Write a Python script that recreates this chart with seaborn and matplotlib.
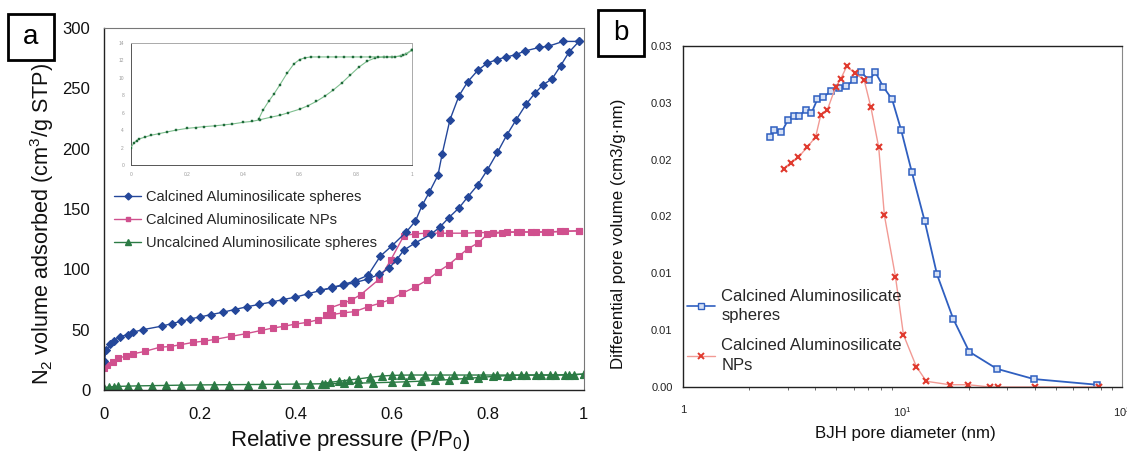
import numpy as np
import pandas as pd
import matplotlib
matplotlib.use("Agg")
import matplotlib.pyplot as plt
import seaborn as sns
from matplotlib.lines import Line2D
from matplotlib.patches import Rectangle

# ---------------- Panel a: N2 isotherms ----------------
sph_ads_p = [0.0, 0.005, 0.013, 0.021, 0.033, 0.049, 0.061, 0.081, 0.121, 0.141, 0.161, 0.18, 0.2,
             0.223, 0.248, 0.272, 0.298, 0.324, 0.35, 0.374, 0.399, 0.425, 0.451, 0.475, 0.499,
             0.523, 0.55, 0.574, 0.594, 0.61, 0.625, 0.649, 0.681, 0.70, 0.719, 0.740, 0.758,
             0.779, 0.799, 0.820, 0.839, 0.859, 0.880, 0.898, 0.915, 0.934, 0.952, 0.969, 0.99]
sph_ads_v = [24, 33, 38, 41, 44, 46, 48, 50, 53, 55, 57, 59, 60.5, 62.5, 64.5, 66.7, 69, 71, 73,
             75, 77, 79.7, 82.5, 84.7, 87, 89, 92, 96, 101, 108, 116, 122, 129, 135, 143, 151,
             160, 170, 182.5, 197, 211, 224, 237, 246, 253, 258, 269, 280, 289]
sph_des_p = [0.99, 0.957, 0.926, 0.907, 0.877, 0.858, 0.838, 0.819, 0.799, 0.779, 0.758, 0.740,
             0.721, 0.705, 0.696, 0.678, 0.663, 0.649, 0.630, 0.600, 0.576, 0.55, 0.523, 0.5,
             0.475, 0.451]
sph_des_v = [289, 289, 285, 284, 281, 278, 276, 274, 271, 265, 255.5, 244, 224, 196, 178, 164,
             153, 140, 131, 119.5, 111, 95, 90.5, 87.5, 85, 82.5]

np_ads_p = [0, 0.006, 0.018, 0.029, 0.045, 0.061, 0.085, 0.117, 0.137, 0.159, 0.185, 0.208, 0.232,
            0.264, 0.296, 0.328, 0.352, 0.375, 0.399, 0.423, 0.447, 0.475, 0.499, 0.523, 0.55,
            0.576, 0.597, 0.621, 0.649, 0.673, 0.696, 0.719, 0.740, 0.758, 0.780, 0.799, 0.83,
            0.86, 0.89, 0.92, 0.95, 0.99]
np_ads_v = [18, 21, 23.6, 26.4, 28, 30, 32, 35.5, 36, 37.5, 39.4, 40.5, 42, 44.4, 46.7, 49.4,
            51.4, 52.8, 54.7, 56, 58.3, 62.5, 64, 65, 69, 72, 75, 80, 85.5, 91, 98, 104, 111,
            117, 122, 129, 130.5, 131, 131, 131, 131.5, 132]
np_des_p = [0.99, 0.96, 0.93, 0.90, 0.87, 0.84, 0.81, 0.78, 0.75, 0.72, 0.70, 0.672, 0.649,
            0.625, 0.598, 0.574, 0.535, 0.515, 0.499, 0.471, 0.463]
np_des_v = [132, 131.5, 131, 131, 131, 131, 130.5, 130.5, 130, 130, 130, 130, 129.5, 128, 108,
            92, 79, 74.4, 72, 68, 62.5]

unc_ads_p = [0, 0.01, 0.02, 0.03, 0.05, 0.07, 0.1, 0.13, 0.16, 0.2, 0.23, 0.26, 0.3, 0.33, 0.36,
             0.4, 0.43, 0.46, 0.5, 0.53, 0.56, 0.6, 0.63, 0.66, 0.69, 0.72, 0.75, 0.78, 0.81,
             0.84, 0.87, 0.9, 0.93, 0.96, 0.98, 1.0]
unc_ads_v = [2.0, 2.5, 2.8, 3.0, 3.2, 3.4, 3.6, 3.8, 4.0, 4.2, 4.3, 4.4, 4.5, 4.6, 4.7, 4.9, 5.0,
             5.2, 5.5, 5.7, 6.0, 6.4, 6.8, 7.3, 7.9, 8.6, 9.4, 10.3, 11.2, 11.9, 12.3, 12.4,
             12.4, 12.5, 12.7, 13.2]
unc_des_p = [1.0, 0.97, 0.94, 0.91, 0.88, 0.85, 0.82, 0.79, 0.76, 0.73, 0.70, 0.67, 0.64, 0.62,
             0.60, 0.58, 0.555, 0.53, 0.51, 0.49, 0.47, 0.455]
unc_des_v = [13.2, 12.6, 12.4, 12.4, 12.4, 12.4, 12.4, 12.4, 12.4, 12.4, 12.4, 12.4, 12.4, 12.3,
             12.1, 11.6, 10.5, 9.2, 8.2, 7.3, 6.3, 5.3]

a_labels = ["Calcined Aluminosilicate spheres", "Calcined Aluminosilicate NPs",
            "Uncalcined Aluminosilicate spheres"]
a_xticks = [0, 0.2, 0.4, 0.6, 0.8, 1.0]
a_xticklabels = ["0", "0.2", "0.4", "0.6", "0.8", "1"]
a_yticks = [0, 50, 100, 150, 200, 250, 300]
inset_xticks = [0, 0.2, 0.4, 0.6, 0.8, 1.0]
inset_yticks = [0, 2, 4, 6, 8, 10, 12, 14]

# ---------------- Panel b: BJH pore size distribution ----------------
bjh_sph_d = [2.50, 2.61, 2.81, 3.01, 3.20, 3.37, 3.62, 3.85, 4.09, 4.34, 4.71, 5.14, 5.55, 6.02,
             6.46, 7.06, 7.52, 8.18, 8.97, 9.86, 11.03, 12.62, 14.36, 17.02, 20.14, 26.9, 39.6, 76.8]
bjh_sph_v = [0.0220, 0.0226, 0.0224, 0.0235, 0.0238, 0.0238, 0.0244, 0.0241, 0.0253, 0.0255,
             0.0260, 0.0263, 0.0265, 0.0270, 0.0277, 0.0270, 0.0277, 0.0264, 0.0253, 0.0226,
             0.0189, 0.0146, 0.0099, 0.0060, 0.0031, 0.0016, 0.0007, 0.0002]
bjh_np_d = [2.88, 3.09, 3.35, 3.68, 4.02, 4.24, 4.55, 4.96, 5.23, 5.57, 6.09, 6.69, 7.18, 7.79,
            8.27, 9.29, 10.1, 11.56, 12.84, 16.4, 19.9, 25.0, 27.3, 40.3, 78.6]
bjh_np_v = [0.0192, 0.0197, 0.0202, 0.0211, 0.0220, 0.0239, 0.0244, 0.0264, 0.0271, 0.0282,
            0.0276, 0.0270, 0.0246, 0.0211, 0.0151, 0.0097, 0.0046, 0.0018, 0.0005, 0.0002,
            0.0002, 0.0, 0.0, 0.0, 0.0]
b_labels = ["Calcined Aluminosilicate\nspheres", "Calcined Aluminosilicate\nNPs"]
b_yticks = [0, 0.005, 0.01, 0.015, 0.02, 0.025, 0.03]
b_yticklabels = ["0.00", "0.01", "0.01", "0.02", "0.02", "0.03", "0.03"]
b_xticks = [1, 10, 100]
b_xticklabels = ["1", "10$^{1}$", "10$^{2}$"]

# colours
C_SPH = "#24479a"
C_NP = "#d0508e"
C_UNC = "#2c7b45"
C_BSPH = "#2f5fc0"
C_BNP = "#e03a2e"
C_BNP_LINE = "#f29a94"

sns.set_theme(style="white")
plt.rcParams['font.family'] = ['Liberation Sans', 'DejaVu Sans']
plt.rcParams['mathtext.fontset'] = 'custom'
plt.rcParams['mathtext.rm'] = 'Liberation Sans'
plt.rcParams['mathtext.it'] = 'Liberation Sans'

fig = plt.figure(figsize=(11.27, 4.54), dpi=100)
axa = fig.add_axes([0.0923, 0.141, 0.4257, 0.797])
axb = fig.add_axes([0.606, 0.1476, 0.3896, 0.7511])
axi = fig.add_axes([0.1162, 0.6366, 0.2493, 0.2687])


def branch(ax, x, y, color, marker, ms, lw=1.0, mfc=None, mec=None, mew=0.8, lc=None, z=2):
    df = pd.DataFrame({"x": x, "y": y})
    sns.lineplot(data=df, x="x", y="y", ax=ax, sort=False, estimator=None,
                 color=lc or color, marker=marker, markersize=ms, linewidth=lw,
                 markeredgecolor=mec or color, markerfacecolor=mfc or color,
                 markeredgewidth=mew, legend=False, zorder=z)


# panel a
branch(axa, unc_ads_p, unc_ads_v, C_UNC, "^", 5.5)
branch(axa, unc_des_p, unc_des_v, C_UNC, "^", 5.5)
branch(axa, np_ads_p, np_ads_v, C_NP, "s", 4.5)
branch(axa, np_des_p, np_des_v, C_NP, "s", 4.5)
branch(axa, sph_ads_p, sph_ads_v, C_SPH, "D", 4.5)
branch(axa, sph_des_p, sph_des_v, C_SPH, "D", 4.5)

axa.set_xlim(0, 1.0)
axa.set_ylim(0, 300)
axa.set_xticks(a_xticks)
axa.set_xticklabels(a_xticklabels)
axa.set_yticks(a_yticks)
axa.tick_params(axis="both", labelsize=12, direction="out", length=4, width=0.8,
                colors="#333333", labelcolor="#111111")
axa.tick_params(axis="x", pad=8)
axa.tick_params(axis="y", pad=6)
axa.set_xlabel("Relative pressure (P/P$_0$)", fontsize=16, color="#111111")
axa.set_ylabel("N$_2$ volume adsorbed (cm$^3$/g STP)", fontsize=15.6, color="#111111")
axa.xaxis.set_label_coords(0.512, -0.105)
axa.yaxis.set_label_coords(-0.10, 0.46)
for s in ["left", "bottom"]:
    axa.spines[s].set_color("#222222")
    axa.spines[s].set_linewidth(1.0)
for s in ["top", "right"]:
    axa.spines[s].set_color("#777777")
    axa.spines[s].set_linewidth(0.8)

handles_a = [Line2D([], [], color=C_SPH, marker="D", markersize=3.5, lw=1.0),
             Line2D([], [], color=C_NP, marker="s", markersize=3.5, lw=1.0),
             Line2D([], [], color=C_UNC, marker="^", markersize=4, lw=1.0)]
axa.legend(handles_a, a_labels, loc="upper left", bbox_to_anchor=(0.0, 0.58), frameon=False,
           fontsize=10.5, handlelength=1.85, handletextpad=0.3, labelspacing=0.6,
           borderaxespad=0.3)

# inset
branch(axi, unc_ads_p, unc_ads_v, "#1f6b3a", "s", 1.6, lw=0.8, lc="#7fbf8f", mew=0.3, z=3)
branch(axi, unc_des_p, unc_des_v, "#1f6b3a", "s", 1.6, lw=0.8, lc="#7fbf8f", mew=0.3, z=3)
axi.set_xlim(0, 1.0)
axi.set_ylim(0, 14)
axi.set_xticks(inset_xticks)
axi.set_yticks(inset_yticks)
axi.set_xticklabels(["0", "0.2", "0.4", "0.6", "0.8", "1"])
axi.tick_params(axis="both", labelsize=3.5, length=2, width=0.5, colors="#777777",
                labelcolor="#999999", pad=3)
axi.set_xlabel("")
axi.set_ylabel("")
axi.patch.set_facecolor("white")
for s in axi.spines.values():
    s.set_color("#aaaaaa")
    s.set_linewidth(0.7)
axi.spines["left"].set_color("#555555")
axi.spines["bottom"].set_color("#555555")

# panel b
branch(axb, bjh_sph_d, bjh_sph_v, C_BSPH, "s", 4.6, lw=1.3, mfc="#d5e0f5", mew=1.1)
branch(axb, bjh_np_d, bjh_np_v, C_BNP, "x", 4.2, lw=1.0, lc=C_BNP_LINE, mew=1.5)
axb.set_xscale("log")
axb.set_xlim(1, 100)
axb.set_ylim(0, 0.03)
axb.set_xticks(b_xticks)
axb.set_xticklabels(b_xticklabels)
axb.set_yticks(b_yticks)
axb.set_yticklabels(b_yticklabels)
axb.tick_params(axis="both", which="major", labelsize=8, direction="out", length=4,
                width=0.8, colors="#333333", labelcolor="#222222")
axb.tick_params(axis="x", which="major", pad=9)
axb.tick_params(axis="x", which="minor", length=2, width=0.6, colors="#555555", bottom=True)
axb.set_xlabel("BJH pore diameter (nm)", fontsize=12.2, color="#111111")
axb.set_ylabel("Differential pore volume (cm3/g\u00b7nm)", fontsize=12.2, color="#111111")
axb.xaxis.set_label_coords(0.506, -0.115)
axb.yaxis.set_label_coords(-0.13, 0.45)
for s in ["left", "bottom", "top"]:
    axb.spines[s].set_color("#222222")
    axb.spines[s].set_linewidth(1.0)
axb.spines["right"].set_color("#888888")
axb.spines["right"].set_linewidth(0.8)

handles_b = [Line2D([], [], color=C_BSPH, marker="s", markersize=4.5, lw=1.2,
                    markerfacecolor="#d5e0f5", markeredgewidth=1.0),
             Line2D([], [], color=C_BNP_LINE, marker="x", markersize=4.5, lw=1.0,
                    markeredgecolor=C_BNP, markeredgewidth=1.4)]
leg_b = axb.legend(handles_b, b_labels, loc="lower left", bbox_to_anchor=(0.0, 0.03),
                   frameon=False, fontsize=12, handlelength=1.7, handletextpad=0.35,
                   labelspacing=0.9, borderaxespad=0.1, borderpad=0.15)
for t in leg_b.get_texts():
    t.set_linespacing(1.35)

# panel tags
for (x0, y0, lab) in [(0.0071, 0.8678, "a"), (0.5306, 0.8767, "b")]:
    fig.patches.append(Rectangle((x0, y0), 0.0408, 0.1013, transform=fig.transFigure,
                                 facecolor="white", edgecolor="black", linewidth=2.0,
                                 zorder=5))
    fig.text(x0 + 0.0204, y0 + 0.0506, lab, fontsize=20, ha="center", va="center",
             color="black", zorder=6)

fig.savefig("out.png", dpi=100)
